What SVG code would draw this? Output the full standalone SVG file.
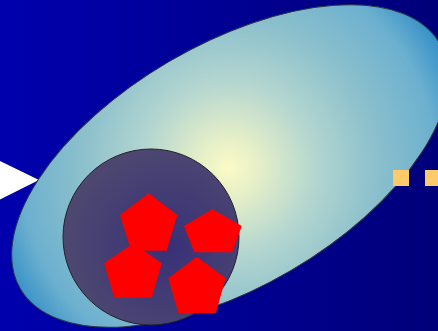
<svg xmlns="http://www.w3.org/2000/svg" width="438" height="331" viewBox="0 0 438 331">
<defs>
<linearGradient id="bg" x1="0" y1="0" x2="1" y2="0">
<stop offset="0" stop-color="#0000ae"/>
<stop offset="1" stop-color="#00007a"/>
</linearGradient>
<radialGradient id="eg" gradientUnits="userSpaceOnUse" cx="228" cy="167" r="245">
<stop offset="0" stop-color="#fbfbc6"/>
<stop offset="0.12" stop-color="#e6efc8"/>
<stop offset="0.35" stop-color="#b4d6d0"/>
<stop offset="0.6" stop-color="#8cc0cc"/>
<stop offset="0.85" stop-color="#6cb0cf"/>
<stop offset="1" stop-color="#3590c8"/>
</radialGradient>
<radialGradient id="cg" cx="0.6" cy="0.55" r="0.6">
<stop offset="0" stop-color="#383078"/>
<stop offset="1" stop-color="#4e4870"/>
</radialGradient>
<style>
.pent{fill:#ff0000;}
.sq{fill:#fecb6a;}
</style>
</defs>
<rect x="0" y="0" width="438" height="331" fill="url(#bg)"/>
<g id="arrow">
<polygon points="0,161 39,180 0,199.5" fill="#ffffff"/>
</g>
<g id="big-ellipse">
<ellipse cx="230" cy="166" rx="243" ry="121" transform="rotate(-30.4 230 166)" fill="url(#eg)" stroke="#2e3440" stroke-width="1"/>
</g>
<g id="circle">
<circle cx="151" cy="237" r="88" fill="url(#cg)" stroke="#222228" stroke-width="1"/>
</g>
<g id="pentagons">
<polygon class="pent" points="148.7,193.3 177.3,215 166.7,250.7 131,250.7 120,215"/>
<polygon class="pent" points="212.3,209.3 241.7,226 232.3,252.3 194.3,252.3 184,226"/>
<polygon class="pent" points="133.3,243.3 161.7,263.3 151.7,297.7 114.3,297.7 104,263.3"/>
<polygon class="pent" points="196.7,256.7 225.7,278.3 215.7,313.3 178.3,313.3 168.3,278.3"/>
</g>
<g id="dots">
<rect class="sq" x="393" y="170" width="16" height="16"/>
<rect class="sq" x="425" y="170" width="16" height="16"/>
</g>
</svg>
